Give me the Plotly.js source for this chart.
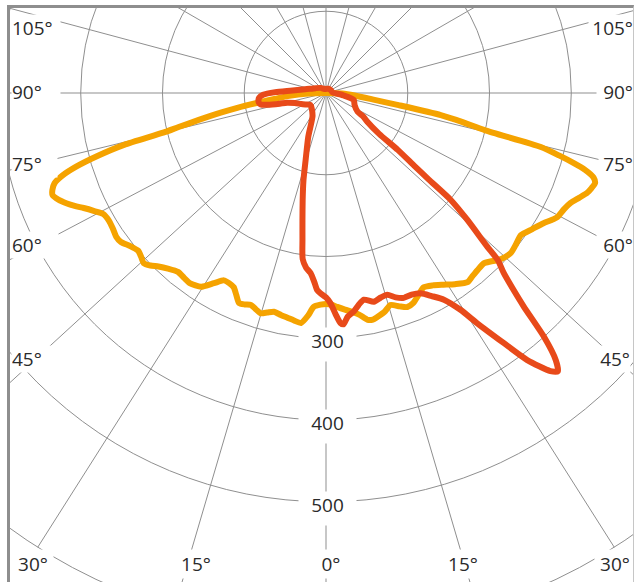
<!DOCTYPE html>
<html>
<head>
<meta charset="utf-8">
<script src="https://cdn.plot.ly/plotly-3.0.1.min.js"></script>
<style>
html,body{margin:0;padding:0;background:#fff;overflow:hidden;width:638px;height:582px;}
#frame{position:absolute;left:7px;top:5px;width:623px;height:577px;border-left:3px solid #8e8e8e;border-top:3px solid #8e8e8e;border-right:1px solid #c6c6c6;overflow:hidden;background:#fff;}
#chart{position:absolute;left:-222px;top:-453px;width:1076px;height:1076px;}
</style>
</head>
<body>
<div id="frame"><div id="chart"></div></div>
<script>
// ---- data (angle in degrees from nadir, + = right side; intensity values) ----
var orangeTheta = [-90,-88,-85.5,-83.5,-82,-80.5,-79.4,-78,-77,-76.3,-75.6,-74.6,-73.6,-72.6,-71.6,-70.5,-69.5,-68.2,-67,-65.8,-64.6,-63,-61.5,-59.5,-57.5,-55.5,-54,-52,-50,-48.5,-47,-45.5,-44,-42,-39.6,-37.5,-35.5,-32.8,-30.5,-28.6,-27,-25.4,-24,-22.5,-21,-19.5,-18,-16.5,-15,-13.4,-11.5,-9.6,-8,-6.2,-4.6,-3.3,-1.5,0,1.5,3,5,7,8.5,10.4,11.7,12.9,15,16.9,19,20.8,22.6,24.5,26.7,29,31.5,34,36.8,38.5,40.6,42.8,44.3,45.8,47.5,49.1,51.5,53.9,56.5,59.1,60.5,61.8,64,65.8,67.5,69.1,70.3,71.5,72.5,73.5,74.2,75,75.9,76.8,78,79.1,80.5,82,85,88,90];
var orangeR = [0,25,45,62,82,110,131,160,185,205,255,290,318,338,350,355,357,352,345,337,328,318,310,308,309,311,310,304,300,302,305,301,295,289,284,285,286,282,270,261,261,263,270,278,277,275,278,281,278,275,277,279,281,283,273,262,259,258,259,262,266,270,274,282,283,281,277,271,276,280,278,272,266,269,275,282,289,287,285,284,288,293,297,299,297,295,302,310,316,321,324,328,335,342,345,347,343,330,315,295,271,200,170,143,90,60,35,20,0];

var redTheta = [-180,-150,-134,-115,-100,-93.7,-91,-88.4,-86,-84.3,-82,-80,-78.5,-77,-75.9,-72,-66,-60,-53,-42,-30,-22,-17,-14.5,-12.3,-10.5,-9.1,-8,-6.5,-4.9,-3.5,-2.6,-1.6,0,1.2,2.5,3.6,4.3,5.5,7.3,8.8,10.4,12.9,15,16.9,18.8,20.8,23,25.3,27.5,29.7,31.8,33.3,35.4,37,38.9,39.8,40.7,41.8,42.8,43.7,44.6,45.8,46.4,48.1,49.4,49.9,50.5,51.6,52.4,55,57.7,59.3,67,76,82,88,95,120,150,180];
var redR = [5,6,9,14,26,44,62,77,82,83,83,81,72,58,49,40,33,28,24,26,33,58,85,110,134,158,182,205,215,221,232,241,245,250,257,271,282,284,275,269,262,257,262,259,258,264,268,268,271,280,291,312,337,375,409,437,443,431,400,356,330,310,293,272,232,201,164,140,112,82,62,54,45,38,35,22,12,8,7,6,5];

var radialTicks = [100,200,300,400,500];
var radialLabelValues = [300,400,500];
var sideAngles = [105,90,75,60,45];
var bottomAngles = [30,15,0,15,30];
// angular grid (spoke) positions as drawn in the picture
var spokeAngles = [-165,-150,-135,-120,-105,-90,-76.3,-62.2,-47.5,-32.4,-16.4,0,16.4,32.4,47.5,62.2,76.3,90,105,120,135,150,165,180];

// ---- geometry of the (cropped) drawing ----
var S = 1076;            // chart div size (px)
var RMAX = 658;          // radial range maximum
var DIVX = 10 - 222, DIVY = 8 - 453;   // page position of chart div
var CX = DIVX + S/2, CY = DIVY + S/2;  // page position of pole
var PXU = (S/2) / RMAX;                 // px per intensity unit

var font = {family:'"Open Sans", "DejaVu Sans", sans-serif', size:19, color:'#2a2a2a'};
function ann(text, px, py, xanchor, w, h, valign) {
  return {text:text, x:(px-DIVX)/S, y:1-(py-DIVY)/S, xref:'paper', yref:'paper',
    xanchor:xanchor, yanchor:valign==='top'?'top':'middle', showarrow:false, bgcolor:'#ffffff',
    width:w, height:h, borderpad:0, valign:valign||'middle',
    align:xanchor==='left'?'left':(xanchor==='right'?'right':'center'),
    font:font};
}
var annotations = [];
radialLabelValues.forEach(function(v){
  var yy = CY + v*PXU;
  annotations.push(ann(String(v), CX+1, yy - 11, 'center', 57, 33, 'top'));
});
var sideY = [28, 92, 164, 245, 359];
var sideW = [48, 48, 45, 46, 46];
var sideWR = [44, 36, 34, 36, 40];
var sideRX = [633.5, 633.5, 633.5, 633.5, 631];
sideAngles.forEach(function(a,i){
  annotations.push(ann(a+'°', 11, sideY[i], 'left', sideW[i], 26));
  annotations.push(ann(a+'°', sideRX[i], sideY[i], 'right', sideWR[i], 26));
});
var bottomX = [33, 196, 331, 463, 615];
bottomAngles.forEach(function(a,i){
  annotations.push(ann(a+'°', bottomX[i], 564, 'center', a===0?30:40, 28));
});

var gridColor = '#8f8f8f';
var data = [
  {type:'scatterpolar', mode:'lines', r:orangeR, theta:orangeTheta,
   line:{color:'#f5a300', width:6, shape:'spline', smoothing:0.6}, hoverinfo:'skip'},
  {type:'scatterpolar', mode:'lines', r:redR, theta:redTheta,
   line:{color:'#e84a1a', width:6, shape:'spline', smoothing:0.6}, hoverinfo:'skip'}
];
var layout = {
  width:S, height:S,
  margin:{l:0,r:0,t:0,b:0,pad:0},
  paper_bgcolor:'#ffffff',
  showlegend:false,
  polar:{
    domain:{x:[0,1],y:[0,1]},
    bgcolor:'#ffffff',
    radialaxis:{range:[0,RMAX], tickmode:'array', tickvals:radialTicks, showticklabels:false,
      ticks:'', showline:false, gridcolor:gridColor, gridwidth:1},
    angularaxis:{rotation:-90, direction:'counterclockwise', thetaunit:'degrees',
      tickmode:'array', tickvals:spokeAngles.map(function(a){return a<0?a+360:a;}),
      showticklabels:false, ticks:'',
      showline:true, linecolor:gridColor, linewidth:1, gridcolor:gridColor, gridwidth:1}
  },
  annotations:annotations
};
Plotly.newPlot('chart', data, layout, {staticPlot:true, displayModeBar:false});
</script>
</body>
</html>
